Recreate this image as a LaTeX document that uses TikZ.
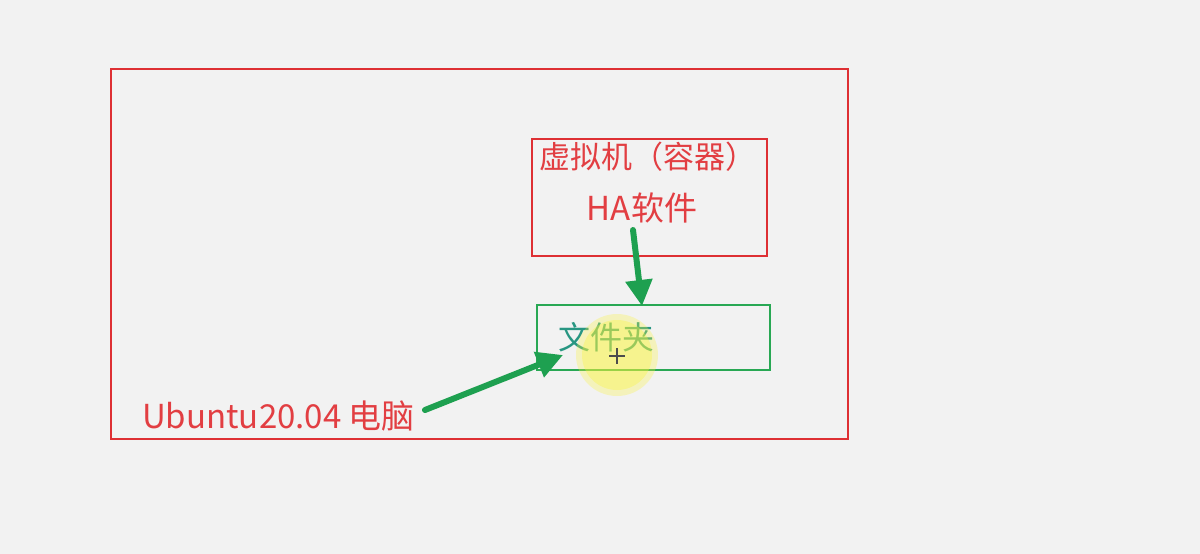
\documentclass[tikz,border=0pt]{standalone}
\usepackage{fontspec}
\setmainfont{Noto Sans CJK SC}
\usetikzlibrary{arrows.meta}
\definecolor{bg}{RGB}{242,242,242}
\definecolor{myred}{RGB}{222,48,52}
\definecolor{txtred}{RGB}{226,62,66}
\definecolor{mygreen}{RGB}{30,160,80}
\definecolor{boxgreen}{RGB}{40,168,84}
\definecolor{teal}{RGB}{40,150,130}
\definecolor{glow}{RGB}{250,245,60}
\tikzset{
  redbox/.style={draw=myred,line width=2pt},
  greenbox/.style={draw=boxgreen,line width=2pt},
  lbl/.style={text=txtred,font=\fontsize{31}{35}\selectfont,inner sep=0pt},
  garrow/.style={draw=mygreen,line width=6pt,line cap=round,-{Triangle[length=26pt,width=26pt]}}
}
\begin{document}
\begin{tikzpicture}[x=1pt,y=-1pt]
\fill[bg] (0,0) rectangle (1200,554);
\useasboundingbox (0,0) rectangle (1200,554);
\draw[redbox] (111,69) rectangle (848,439);
\draw[redbox] (532,139) rectangle (767,256);
\draw[greenbox] (537,305) rectangle (770,370);
\node[lbl,anchor=center] (vm) at (648,157) {虚拟机（容器）};
\node[lbl,font=\fontsize{33}{37}\selectfont,anchor=center] (ha) at (642,208) {HA软件};
\node[lbl,text=teal,font=\fontsize{32}{36}\selectfont,anchor=west] (folder) at (558,337) {文件夹};
\node[lbl,font=\fontsize{33}{37}\selectfont,anchor=west] (pc) at (142,416) {Ubuntu20.04 电脑};
\coordinate (a1s) at (633,230);
\coordinate (a1e) at (642,306);
\coordinate (a2s) at (425,410);
\coordinate (a2e) at (563,355);
\draw[garrow] (a1s) -- (a1e);
\draw[garrow] (a2s) -- (a2e);
\fill[glow,opacity=0.3] (617,355) circle (41);
\fill[glow,opacity=0.35] (617,355) circle (35);
\draw[black!70,line width=1.5pt] (609,356) -- (625,356) (617,348) -- (617,364);
\end{tikzpicture}
\end{document}
